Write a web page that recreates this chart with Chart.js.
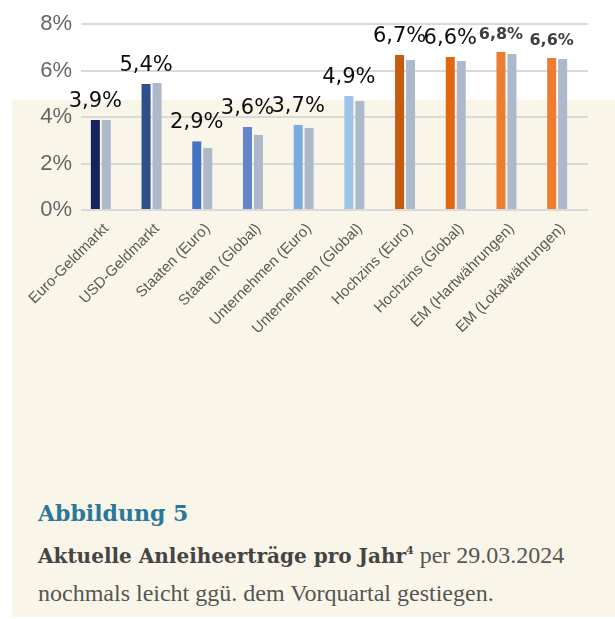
<!DOCTYPE html>
<html lang="de">
<head>
<meta charset="utf-8">
<script src="https://cdn.jsdelivr.net/npm/chart.js@4.4.1/dist/chart.umd.min.js"></script>
<style>
  html, body { margin: 0; padding: 0; background: #ffffff; }
  body { width: 615px; height: 619px; position: relative; overflow: hidden; }
  #panel { position: absolute; left: 12px; top: 100px; width: 603px; height: 517px; background: #f9f5e8; }
  #chart-box { position: absolute; left: 0; top: 0; width: 615px; height: 420px; }
  .cap { position: absolute; left: 38px; white-space: nowrap; }
  #fig { top: 500px; font: bold 22px "DejaVu Serif", serif; color: #2b7799; line-height: 26px; }
  #line1 { top: 542px; line-height: 26px; color: #555; font: 24px "Liberation Serif", serif; }
  #line1 b { font: bold 20px "DejaVu Serif", serif; color: #444; }
  #line1 sup { font: bold 11px "DejaVu Serif", serif; color: #444; vertical-align: 9px; }
  #line2 { top: 580px; line-height: 26px; color: #555; font: 24px "Liberation Serif", serif; }
</style>
</head>
<body>
<div id="panel"></div>
<div id="chart-box"><canvas id="yieldChart" width="615" height="420"></canvas></div>
<div class="cap" id="fig">Abbildung 5</div>
<div class="cap" id="line1"><b>Aktuelle Anleiheerträge pro Jahr</b><sup>4</sup> per 29.03.2024</div>
<div class="cap" id="line2">nochmals leicht ggü. dem Vorquartal gestiegen.</div>

<script>
const categories = [
    "Euro-Geldmarkt", "USD-Geldmarkt", "Staaten (Euro)", "Staaten (Global)",
    "Unternehmen (Euro)", "Unternehmen (Global)", "Hochzins (Euro)",
    "Hochzins (Global)", "EM (Hartwährungen)", "EM (Lokalwährungen)"
];
// current yields (coloured bars) and previous quarter (grey bars), in %
const currentYields = [3.87, 5.42, 2.95, 3.57, 3.66, 4.9, 6.67, 6.58, 6.8, 6.54];
const previousYields = [3.87, 5.46, 2.67, 3.23, 3.53, 4.69, 6.45, 6.41, 6.71, 6.49];
const valueLabels = ["3,9%", "5,4%", "2,9%", "3,6%", "3,7%", "4,9%", "6,7%", "6,6%", "6,8%", "6,6%"];
const yTicks = [0, 2, 4, 6, 8];

const barColors = [
    "#15245f", "#2f4f8a", "#4472c4", "#6585c9", "#7aabdf",
    "#9dc3e6", "#c55a11", "#e26713", "#ed7d31", "#ed7d31"
];
const boldFrom = 8; // last two labels are drawn bold

// draws the value labels above the coloured bars
const valueLabelPlugin = {
    id: "valueLabels",
    afterDatasetsDraw(chart) {
        const ctx = chart.ctx;
        const meta = chart.getDatasetMeta(0);
        ctx.save();
        ctx.textAlign = "center";
        ctx.textBaseline = "alphabetic";
        meta.data.forEach((bar, i) => {
            if (i >= boldFrom) {
                ctx.font = "bold 16px 'DejaVu Sans'";
                ctx.fillStyle = "#404040";
            } else {
                ctx.font = "21px 'DejaVu Sans'";
                ctx.fillStyle = "#0d0d0d";
            }
            ctx.fillText(valueLabels[i], bar.x, bar.y - 13);
        });
        ctx.restore();
    }
};

const barStyle = { categoryPercentage: 0.65, barPercentage: 0.82 };

new Chart(document.getElementById("yieldChart"), {
    type: "bar",
    data: {
        labels: categories,
        datasets: [
            { label: "Aktuell", data: currentYields, backgroundColor: barColors, ...barStyle },
            { label: "Vorquartal", data: previousYields, backgroundColor: "#adb9ca", ...barStyle },
            // empty slot: the pair of bars sits a bit left of the category centre
            { label: "", data: categories.map(() => null), ...barStyle }
        ]
    },
    options: {
        responsive: false,
        animation: false,
        layout: { padding: { top: 24, right: 27, left: 0, bottom: 0 } },
        plugins: {
            legend: { display: false },
            tooltip: { enabled: false }
        },
        scales: {
            y: {
                min: 0,
                max: 8,
                afterFit: (scale) => { scale.width = 81; },
                afterBuildTicks: (scale) => { scale.ticks = yTicks.map(v => ({ value: v })); },
                grid: { color: "#d9d9d9", lineWidth: 2, drawTicks: false },
                border: { display: false },
                ticks: {
                    padding: 9,
                    color: "#666666",
                    font: { family: "Liberation Sans", size: 22 },
                    callback: (v) => v + "%"
                }
            },
            x: {
                afterFit: (scale) => { scale.height = 210; },
                grid: { display: false },
                border: { display: false },
                ticks: {
                    minRotation: 45,
                    maxRotation: 45,
                    padding: 2,
                    color: "#595959",
                    font: { family: "Liberation Sans", size: 15 }
                }
            }
        }
    },
    plugins: [valueLabelPlugin]
});
</script>
</body>
</html>
